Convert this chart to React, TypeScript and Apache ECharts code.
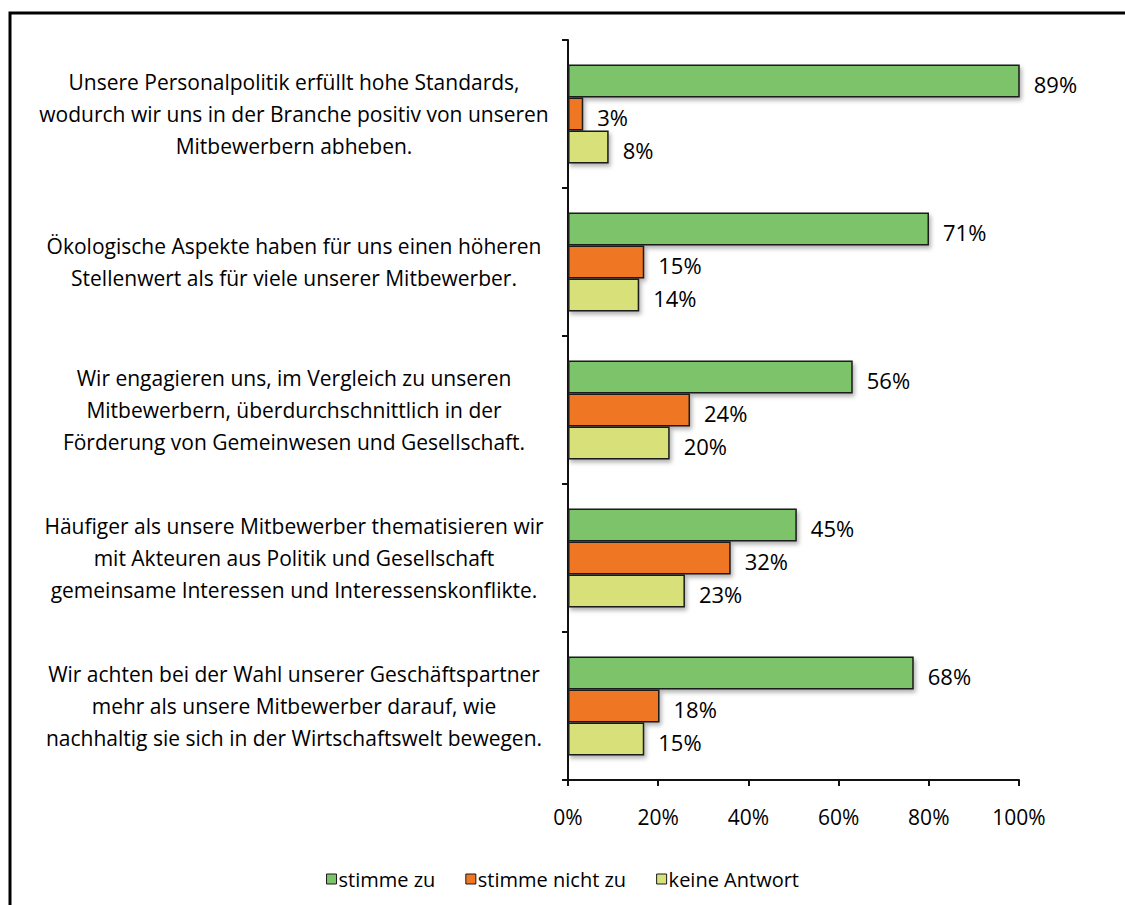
import React, { useEffect, useRef } from "react";
import * as echarts from "echarts";

const categories: string[] = [
  "Unsere Personalpolitik erfüllt hohe Standards,\nwodurch wir uns in der Branche positiv von unseren\nMitbewerbern abheben.",
  "Ökologische Aspekte haben für uns einen höheren\nStellenwert als für viele unserer Mitbewerber.",
  "Wir engagieren uns, im Vergleich zu unseren\nMitbewerbern, überdurchschnittlich in der\nFörderung von Gemeinwesen und Gesellschaft.",
  "Häufiger als unsere Mitbewerber thematisieren wir\nmit Akteuren aus Politik und Gesellschaft\ngemeinsame Interessen und Interessenskonflikte.",
  "Wir achten bei der Wahl unserer Geschäftspartner\nmehr als unsere Mitbewerber darauf, wie\nnachhaltig sie sich in der Wirtschaftswelt bewegen.",
];

const stimmeZu: number[] = [89, 71, 56, 45, 68];
const stimmeNichtZu: number[] = [3, 15, 24, 32, 18];
const keineAntwort: number[] = [8, 14, 20, 23, 15];

const seriesNames: string[] = ["stimme zu", "stimme nicht zu", "keine Antwort"];
const seriesColors: string[] = ["#7cc36a", "#ef7622", "#d8e07a"];

const FONT = "'Open Sans'";

export default function App() {
  const ref = useRef<HTMLDivElement>(null);

  useEffect(() => {
    if (!ref.current) return;
    const chart = echarts.init(ref.current, undefined, { renderer: "svg" });
    const values = [stimmeZu, stimmeNichtZu, keineAntwort];
    const series = values.map((data, i) => ({
      name: seriesNames[i],
      type: "bar",
      xAxisIndex: 1,
      data,
      barWidth: 33,
      barGap: "0%",
      itemStyle: {
        color: seriesColors[i],
        borderColor: "#1a1a1a",
        borderWidth: 1.5,
        shadowBlur: 4,
        shadowOffsetX: 2,
        shadowOffsetY: 3,
        shadowColor: "rgba(0,0,0,0.3)",
      },
      label: {
        show: true,
        position: "right",
        distance: 14,
        offset: [0, 3],
        formatter: "{c}%",
        fontFamily: FONT,
        fontSize: 22,
        color: "#000",
      },
    }));

    chart.setOption({
      animation: false,
      backgroundColor: "#fff",
      textStyle: { fontFamily: FONT },
      graphic: [
        {
          type: "rect",
          shape: { x: 10, y: 13, width: 1300, height: 1100 },
          style: { fill: "none", stroke: "#000", lineWidth: 3 },
          z: 100,
        },
      ],
      grid: { left: 568, right: 106, top: 40, bottom: 125 },
      legend: {
        bottom: 11,
        left: "center",
        icon: "rect",
        itemWidth: 10,
        itemHeight: 10,
        itemGap: 30,
        data: seriesNames,
        textStyle: { fontFamily: FONT, fontSize: 20, color: "#000", padding: [0, 0, 0, -3] },
        itemStyle: { borderColor: "#1a1a1a", borderWidth: 1, shadowBlur: 0, shadowOffsetX: 0, shadowOffsetY: 0 },
      },
      yAxis: {
        type: "category",
        inverse: true,
        data: categories,
        axisLine: { show: true, lineStyle: { color: "#111", width: 2 } },
        axisTick: { show: true, length: 6, lineStyle: { color: "#111", width: 2 } },
        axisLabel: {
          fontFamily: FONT,
          fontSize: 21,
          color: "#000",
          lineHeight: 32,
          align: "right",
          margin: 17,
          formatter: (v: string) => v.split("\n").map((l) => `{c|${l}}`).join("\n"),
          rich: {
            c: {
              width: 514,
              align: "center",
              fontFamily: FONT,
              fontSize: 21,
              lineHeight: 32,
              color: "#000",
            },
          },
        },
      },
      xAxis: [
        {
          type: "value",
          min: 0,
          max: 100,
          interval: 20,
          axisLine: { show: true, lineStyle: { color: "#111", width: 2 } },
          axisTick: { show: true, length: 6, lineStyle: { color: "#111", width: 2 } },
          splitLine: { show: false },
          axisLabel: {
            formatter: "{value}%",
            fontFamily: FONT,
            fontSize: 21,
            color: "#000",
            margin: 26,
          },
        },
        {
          type: "value",
          min: 0,
          max: 88.7,
          show: false,
          splitLine: { show: false },
        },
      ],
      series,
    });

    return () => chart.dispose();
  }, []);

  return (
    <div
      ref={ref}
      style={{ position: "fixed", left: 0, top: 0, width: 1125, height: 905 }}
    />
  );
}
